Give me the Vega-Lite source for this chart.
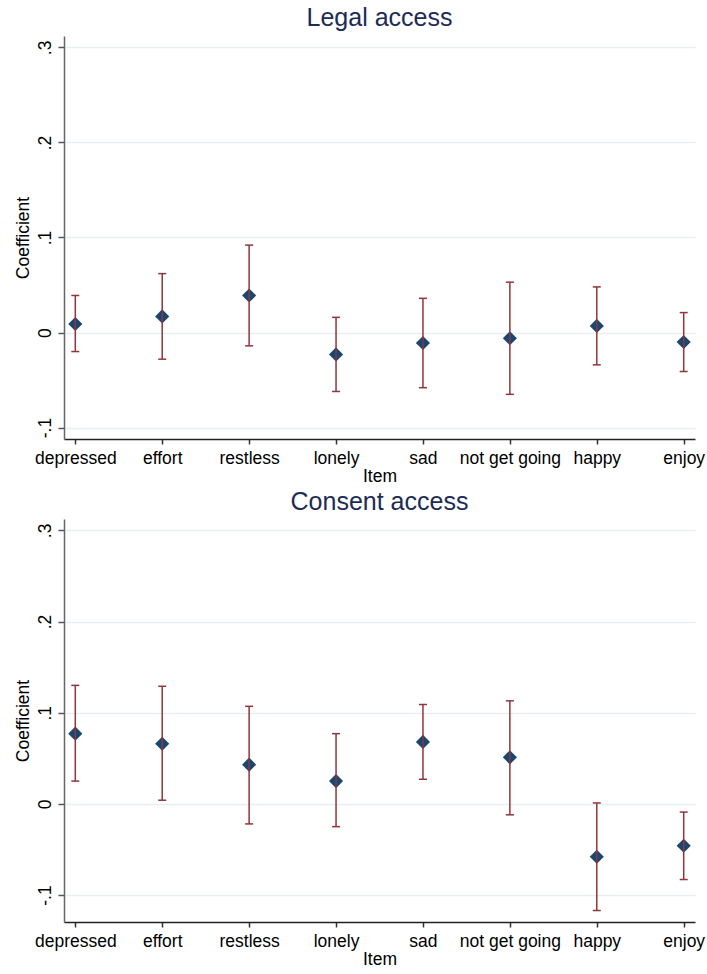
{
  "$schema": "https://vega.github.io/schema/vega-lite/v6.json",
  "background": "white",
  "padding": {"left": 14, "top": 6, "right": 4, "bottom": 0},
  "spacing": 5,
  "config": {
    "font": "Liberation Sans",
    "view": {"stroke": null},
    "title": {"font": "Liberation Sans", "fontSize": 25, "fontWeight": "normal", "color": "#1c2c55", "anchor": "middle", "offset": 5, "baseline": "alphabetic"},
    "axis": {"labelFont": "Liberation Sans", "titleFont": "Liberation Sans", "labelFontSize": 17.5, "titleFontSize": 17.5, "labelColor": "black", "titleColor": "black", "titleFontWeight": "normal", "grid": false, "domainWidth": 1.5, "tickWidth": 1.5},
    "axisX": {"tickSize": 5, "labelPadding": 5, "labelAngle": 0, "domainColor": "#222", "tickColor": "#333", "titlePadding": 1},
    "axisY": {"grid": true, "gridColor": "#e6eef1", "gridWidth": 1.3, "tickSize": 6, "labelAngle": 270, "labelAlign": "center", "labelBaseline": "bottom", "labelPadding": 4, "titlePadding": 4, "domainColor": "#666", "tickColor": "#555"}
  },
  "datasets": {
    "d": [
      {"panel": "Legal access", "item": "depressed", "coef": 0.009, "lo": -0.020, "hi": 0.039},
      {"panel": "Legal access", "item": "effort", "coef": 0.017, "lo": -0.028, "hi": 0.062},
      {"panel": "Legal access", "item": "restless", "coef": 0.039, "lo": -0.014, "hi": 0.092},
      {"panel": "Legal access", "item": "lonely", "coef": -0.023, "lo": -0.062, "hi": 0.016},
      {"panel": "Legal access", "item": "sad", "coef": -0.011, "lo": -0.058, "hi": 0.036},
      {"panel": "Legal access", "item": "not get going", "coef": -0.006, "lo": -0.065, "hi": 0.053},
      {"panel": "Legal access", "item": "happy", "coef": 0.007, "lo": -0.034, "hi": 0.048},
      {"panel": "Legal access", "item": "enjoy", "coef": -0.010, "lo": -0.041, "hi": 0.021},
      {"panel": "Consent access", "item": "depressed", "coef": 0.077, "lo": 0.025, "hi": 0.130},
      {"panel": "Consent access", "item": "effort", "coef": 0.066, "lo": 0.004, "hi": 0.129},
      {"panel": "Consent access", "item": "restless", "coef": 0.043, "lo": -0.022, "hi": 0.107},
      {"panel": "Consent access", "item": "lonely", "coef": 0.025, "lo": -0.025, "hi": 0.077},
      {"panel": "Consent access", "item": "sad", "coef": 0.068, "lo": 0.027, "hi": 0.109},
      {"panel": "Consent access", "item": "not get going", "coef": 0.051, "lo": -0.012, "hi": 0.113},
      {"panel": "Consent access", "item": "happy", "coef": -0.058, "lo": -0.117, "hi": 0.001},
      {"panel": "Consent access", "item": "enjoy", "coef": -0.046, "lo": -0.083, "hi": -0.009}
    ]
  },
  "vconcat": [
    {
      "title": "Legal access",
      "width": 631,
      "height": 403,
      "data": {"name": "d"},
      "transform": [{"filter": "datum.panel === 'Legal access'"}],
      "encoding": {
        "x": {"field": "item", "type": "ordinal", "sort": ["depressed", "effort", "restless", "lonely", "sad", "not get going", "happy", "enjoy"], "scale": {"type": "point", "padding": 0.13}, "axis": {"title": "Item"}}
      },
      "layer": [
        {"mark": {"type": "point", "shape": "diamond", "filled": true, "size": 200, "color": "#1a476f", "opacity": 1},
         "encoding": {"y": {"field": "coef", "type": "quantitative", "title": "Coefficient", "scale": {"domain": [-0.112, 0.312], "nice": false, "zero": false},
           "axis": {"values": [-0.1, 0, 0.1, 0.2, 0.3], "labelExpr": "datum.value < -0.05 ? '-.1' : datum.value < 0.05 ? '0' : datum.value < 0.15 ? '.1' : datum.value < 0.25 ? '.2' : '.3'"}}}},
        {"mark": {"type": "rule", "color": "#90353b", "strokeWidth": 1.5},
         "encoding": {"y": {"field": "lo", "type": "quantitative", "title": "Coefficient"}, "y2": {"field": "hi"}}},
        {"mark": {"type": "tick", "color": "#90353b", "thickness": 1.5, "size": 8, "opacity": 1},
         "encoding": {"y": {"field": "lo", "type": "quantitative", "title": "Coefficient"}}},
        {"mark": {"type": "tick", "color": "#90353b", "thickness": 1.5, "size": 8, "opacity": 1},
         "encoding": {"y": {"field": "hi", "type": "quantitative", "title": "Coefficient"}}}
      ]
    },
    {
      "title": {"text": "Consent access", "offset": 4},
      "width": 631,
      "height": 403,
      "data": {"name": "d"},
      "transform": [{"filter": "datum.panel === 'Consent access'"}],
      "encoding": {
        "x": {"field": "item", "type": "ordinal", "sort": ["depressed", "effort", "restless", "lonely", "sad", "not get going", "happy", "enjoy"], "scale": {"type": "point", "padding": 0.13}, "axis": {"title": "Item"}}
      },
      "layer": [
        {"mark": {"type": "point", "shape": "diamond", "filled": true, "size": 200, "color": "#1a476f", "opacity": 1},
         "encoding": {"y": {"field": "coef", "type": "quantitative", "title": "Coefficient", "scale": {"domain": [-0.1296, 0.3125], "nice": false, "zero": false},
           "axis": {"values": [-0.1, 0, 0.1, 0.2, 0.3], "labelExpr": "datum.value < -0.05 ? '-.1' : datum.value < 0.05 ? '0' : datum.value < 0.15 ? '.1' : datum.value < 0.25 ? '.2' : '.3'"}}}},
        {"mark": {"type": "rule", "color": "#90353b", "strokeWidth": 1.5},
         "encoding": {"y": {"field": "lo", "type": "quantitative", "title": "Coefficient"}, "y2": {"field": "hi"}}},
        {"mark": {"type": "tick", "color": "#90353b", "thickness": 1.5, "size": 8, "opacity": 1},
         "encoding": {"y": {"field": "lo", "type": "quantitative", "title": "Coefficient"}}},
        {"mark": {"type": "tick", "color": "#90353b", "thickness": 1.5, "size": 8, "opacity": 1},
         "encoding": {"y": {"field": "hi", "type": "quantitative", "title": "Coefficient"}}}
      ]
    }
  ]
}
